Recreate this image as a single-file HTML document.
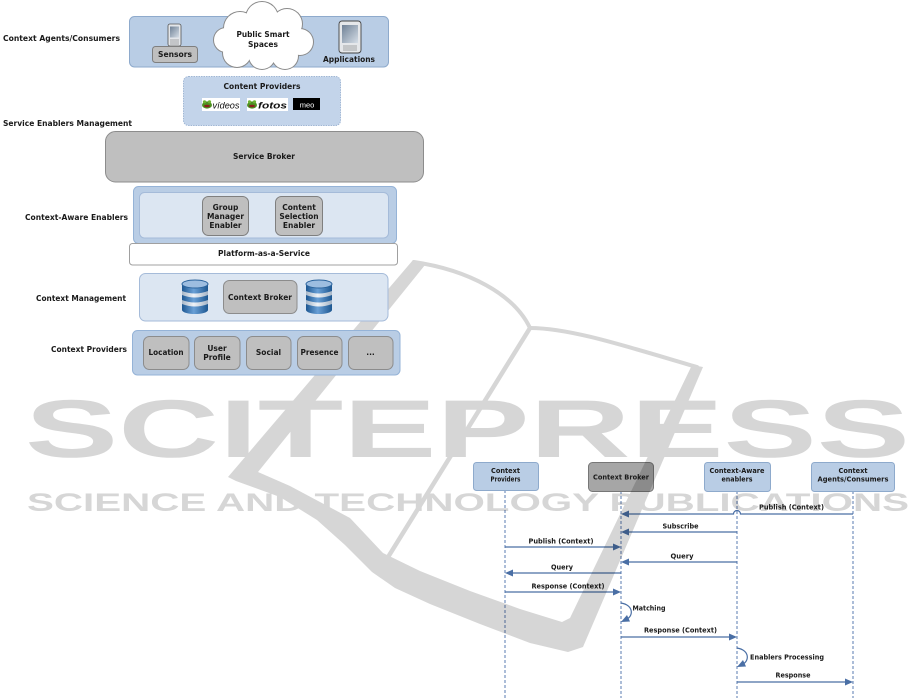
<!DOCTYPE html>
<html>
<head>
<meta charset="utf-8">
<style>
html,body{margin:0;padding:0;background:#fff;width:915px;height:700px;overflow:hidden}
svg{display:block}
text{font-family:"DejaVu Sans","Liberation Sans",sans-serif;font-weight:bold;fill:#1a1a1a}
.wm{font-family:"Liberation Sans",sans-serif;font-weight:bold;fill:#d6d6d6}
</style>
</head>
<body>
<svg width="915" height="700" viewBox="0 0 915 700" xmlns="http://www.w3.org/2000/svg">
<defs>
  <linearGradient id="cyl" x1="0" x2="1" y1="0" y2="0">
    <stop offset="0" stop-color="#1d5791"/><stop offset=".45" stop-color="#6aa0d6"/><stop offset="1" stop-color="#1d5791"/>
  </linearGradient>
  <linearGradient id="band" x1="0" x2="1" y1="0" y2="0">
    <stop offset="0" stop-color="#a7b6c7"/><stop offset=".45" stop-color="#eef2f7"/><stop offset="1" stop-color="#a7b6c7"/>
  </linearGradient>
  <linearGradient id="scr" x1="0" y1="0" x2="1" y2="1">
    <stop offset="0" stop-color="#6f8196"/><stop offset="1" stop-color="#d5dde6"/>
  </linearGradient>
</defs>
<rect x="0" y="0" width="915" height="700" fill="#fff"/>

<!-- ============ SEQUENCE DIAGRAM ============ -->
<g>
  <g stroke="#5a7bb0" stroke-width="1" stroke-dasharray="3,2" fill="none">
    <line x1="505" y1="490" x2="505" y2="698"/>
    <line x1="621" y1="491" x2="621" y2="698"/>
    <line x1="737" y1="491" x2="737" y2="698"/>
    <line x1="853" y1="491" x2="853" y2="698"/>
  </g>
  <rect x="473.5" y="462.5" width="65" height="28" rx="3" fill="#b9cde5" stroke="#8eaacc"/>
  <rect x="588.5" y="462.5" width="65" height="29" rx="4" fill="#a6a6a6" stroke="#777"/>
  <rect x="704.5" y="462.5" width="66" height="29" rx="3" fill="#b9cde5" stroke="#8eaacc"/>
  <rect x="811.5" y="462.5" width="83" height="29" rx="3" fill="#b9cde5" stroke="#8eaacc"/>
  <g font-size="6.6" text-anchor="middle">
    <text x="505.5" y="473" textLength="29" lengthAdjust="spacingAndGlyphs">Context</text>
    <text x="505.5" y="481.5" textLength="30" lengthAdjust="spacingAndGlyphs">Providers</text>
    <text x="621" y="479.5" textLength="56" lengthAdjust="spacingAndGlyphs">Context Broker</text>
    <text x="737" y="473" textLength="55" lengthAdjust="spacingAndGlyphs">Context-Aware</text>
    <text x="737" y="481.5" textLength="31" lengthAdjust="spacingAndGlyphs">enablers</text>
    <text x="853" y="473" textLength="29" lengthAdjust="spacingAndGlyphs">Context</text>
    <text x="853" y="481.5" textLength="71" lengthAdjust="spacingAndGlyphs">Agents/Consumers</text>
  </g>
  <g stroke="#4a6fa5" stroke-width="1.2" fill="none">
    <path d="M853,514 L740.5,514 A3.5,3.5 0 0 0 733.5,514 L628,514"/>
    <line x1="737" y1="532" x2="628" y2="532"/>
    <line x1="505" y1="547" x2="614" y2="547"/>
    <line x1="737" y1="562" x2="628" y2="562"/>
    <line x1="621" y1="573" x2="512" y2="573"/>
    <line x1="505" y1="592" x2="614" y2="592"/>
    <path d="M621,603 C634,605 634,617 625,620"/>
    <line x1="621" y1="637" x2="730" y2="637"/>
    <path d="M737,648 C750,650 750,662 741,665"/>
    <line x1="737" y1="682" x2="846" y2="682"/>
  </g>
  <g fill="#4a6fa5">
    <polygon points="621,514 629,510.5 629,517.5"/>
    <polygon points="621,532 629,528.5 629,535.5"/>
    <polygon points="621,547 613,543.5 613,550.5"/>
    <polygon points="621,562 629,558.5 629,565.5"/>
    <polygon points="505,573 513,569.5 513,576.5"/>
    <polygon points="621,592 613,588.5 613,595.5"/>
    <polygon points="621,622 627,615 630,621.5"/>
    <polygon points="737,637 729,633.5 729,640.5"/>
    <polygon points="737,667 743,660 746,666.5"/>
    <polygon points="853,682 845,678.5 845,685.5"/>
  </g>
  <g font-size="6.6">
    <text x="791.5" y="509.5" text-anchor="middle" textLength="65" lengthAdjust="spacingAndGlyphs">Publish (Context)</text>
    <text x="680.5" y="528.5" text-anchor="middle" textLength="36" lengthAdjust="spacingAndGlyphs">Subscribe</text>
    <text x="561" y="543.5" text-anchor="middle" textLength="65" lengthAdjust="spacingAndGlyphs">Publish (Context)</text>
    <text x="682" y="558.5" text-anchor="middle" textLength="23" lengthAdjust="spacingAndGlyphs">Query</text>
    <text x="562" y="569.5" text-anchor="middle" textLength="22" lengthAdjust="spacingAndGlyphs">Query</text>
    <text x="568" y="588.5" text-anchor="middle" textLength="73" lengthAdjust="spacingAndGlyphs">Response (Context)</text>
    <text x="632.5" y="610.5" textLength="33" lengthAdjust="spacingAndGlyphs">Matching</text>
    <text x="680.5" y="632.5" text-anchor="middle" textLength="73" lengthAdjust="spacingAndGlyphs">Response (Context)</text>
    <text x="750" y="659.5" textLength="74" lengthAdjust="spacingAndGlyphs">Enablers Processing</text>
    <text x="793" y="677.5" text-anchor="middle" textLength="35" lengthAdjust="spacingAndGlyphs">Response</text>
  </g>
</g>

<!-- ============ WATERMARK ============ -->
<g style="mix-blend-mode:multiply">
  <polygon fill="#d6d6d6" points="413,260 425,265 258,472 290,486 350,518 383,553 420,571 470,591 520,609 562,622 570,618 692,365 703,367 583,647 568,652 530,643 480,624 430,604 395,588 372,572 345,545 317,520 280,497 236,481 228,477"/>
  <g fill="none" stroke="#d6d6d6" stroke-linecap="round">
    <path d="M414,262 C468,270 514,294 530,328" stroke-width="4"/>
    <path d="M530,328 C570,328 625,346 697,367" stroke-width="4"/>
    <path d="M530,328 L385,562" stroke-width="4.5"/>
  </g>
  <text class="wm" x="25" y="457" font-size="82" textLength="885" lengthAdjust="spacingAndGlyphs">SCITEPRESS</text>
  <text class="wm" x="27" y="511" font-size="24.7" textLength="882" lengthAdjust="spacingAndGlyphs">SCIENCE AND TECHNOLOGY PUBLICATIONS</text>
</g>

<!-- ============ TOP ARCHITECTURE DIAGRAM ============ -->
<g>
  <g font-size="7.5">
    <text x="3" y="41" textLength="117" lengthAdjust="spacingAndGlyphs">Context Agents/Consumers</text>
    <text x="3" y="126" textLength="129" lengthAdjust="spacingAndGlyphs">Service Enablers Management</text>
    <text x="25" y="220" textLength="103" lengthAdjust="spacingAndGlyphs">Context-Aware Enablers</text>
    <text x="36" y="301" textLength="90" lengthAdjust="spacingAndGlyphs">Context Management</text>
    <text x="51" y="352" textLength="76" lengthAdjust="spacingAndGlyphs">Context Providers</text>
  </g>

  <rect x="129.5" y="16.5" width="259" height="50.5" rx="5" fill="#b9cde5" stroke="#8eaacc"/>
  <rect x="168" y="24" width="13" height="22" rx="2" fill="#e3e6ea" stroke="#555" stroke-width="0.8"/>
  <rect x="170" y="26.5" width="9" height="11" fill="url(#scr)"/>
  <g stroke="#777" stroke-width="0.6"><line x1="170" y1="40" x2="179" y2="40"/><line x1="170" y1="42" x2="179" y2="42"/><line x1="170" y1="44" x2="179" y2="44"/></g>
  <rect x="152.5" y="46.5" width="45" height="16" rx="3" fill="#bfbfbf" stroke="#7f7f7f"/>
  <text x="175" y="57" font-size="7.5" text-anchor="middle" textLength="34" lengthAdjust="spacingAndGlyphs">Sensors</text>
  <!-- cloud -->
  <g fill="#8a8a8a">
    <circle cx="240" cy="28" r="17"/><circle cx="262" cy="18" r="17"/><circle cx="287" cy="24" r="16"/>
    <circle cx="300" cy="42" r="14"/><circle cx="285" cy="56" r="14"/><circle cx="262" cy="56" r="14"/>
    <circle cx="237" cy="53" r="15"/><circle cx="226" cy="40" r="13"/>
  </g>
  <g fill="#fff">
    <circle cx="240" cy="28" r="16"/><circle cx="262" cy="18" r="16"/><circle cx="287" cy="24" r="15"/>
    <circle cx="300" cy="42" r="13"/><circle cx="285" cy="56" r="13"/><circle cx="262" cy="56" r="13"/>
    <circle cx="237" cy="53" r="14"/><circle cx="226" cy="40" r="12"/><circle cx="263" cy="38" r="22"/>
    <circle cx="282" cy="40" r="16"/><circle cx="246" cy="42" r="16"/>
  </g>
  <text x="263" y="37" font-size="7.5" text-anchor="middle" textLength="53" lengthAdjust="spacingAndGlyphs">Public Smart</text>
  <text x="263" y="47" font-size="7.5" text-anchor="middle" textLength="30" lengthAdjust="spacingAndGlyphs">Spaces</text>
  <rect x="339" y="21" width="22" height="32" rx="3" fill="#e5e7ea" stroke="#444" stroke-width="0.9"/>
  <rect x="342" y="25" width="16" height="18" fill="url(#scr)"/>
  <g stroke="#777" stroke-width="0.6"><line x1="343" y1="46" x2="357" y2="46"/><line x1="343" y1="48" x2="357" y2="48"/><line x1="343" y1="50" x2="357" y2="50"/></g>
  <text x="349" y="62" font-size="7.5" text-anchor="middle" textLength="52" lengthAdjust="spacingAndGlyphs">Applications</text>

  <rect x="183.5" y="76.5" width="157" height="49" rx="5" fill="#c3d4ea" stroke="#9fb6d4" stroke-dasharray="1.5,1"/>
  <text x="262" y="89" font-size="7.5" text-anchor="middle" textLength="77" lengthAdjust="spacingAndGlyphs">Content Providers</text>
  <rect x="202" y="98" width="38" height="13" fill="#fff"/>
  <ellipse cx="207" cy="105" rx="5" ry="3.6" fill="#4d8f22"/>
  <circle cx="204.5" cy="101.8" r="1.6" fill="#6cb233"/><circle cx="209.5" cy="101.8" r="1.6" fill="#6cb233"/>
  <ellipse cx="207" cy="106" rx="3" ry="1.2" fill="#8b1d1d"/>
  <text x="212.5" y="108.5" font-size="9" style="font-family:'Liberation Sans',sans-serif;font-style:italic;font-weight:normal;fill:#111" textLength="27" lengthAdjust="spacingAndGlyphs">vídeos</text>
  <rect x="247" y="98" width="41" height="13" fill="#fff"/>
  <ellipse cx="252" cy="105" rx="5" ry="3.6" fill="#4d8f22"/>
  <circle cx="249.5" cy="101.8" r="1.6" fill="#6cb233"/><circle cx="254.5" cy="101.8" r="1.6" fill="#6cb233"/>
  <ellipse cx="252" cy="106" rx="3" ry="1.2" fill="#8b1d1d"/>
  <text x="258" y="108.5" font-size="9.5" style="font-family:'Liberation Sans',sans-serif;font-style:italic;font-weight:bold;fill:#111" textLength="29" lengthAdjust="spacingAndGlyphs">fotos</text>
  <rect x="293" y="98" width="27" height="12" fill="#000"/>
  <text x="307" y="107.5" font-size="7.5" text-anchor="middle" style="font-family:'Liberation Sans',sans-serif;font-weight:normal;fill:#fff">meo</text>

  <rect x="105.5" y="131.5" width="318" height="50.5" rx="10" fill="#bfbfbf" stroke="#8c8c8c"/>
  <text x="264" y="159" font-size="7.5" text-anchor="middle" textLength="62" lengthAdjust="spacingAndGlyphs">Service Broker</text>

  <rect x="133.5" y="186.5" width="263" height="57" rx="5" fill="#b9cde5" stroke="#95b3d7"/>
  <rect x="139.5" y="192.5" width="249" height="45.5" rx="5" fill="#dce6f2" stroke="#a5bbd9"/>
  <rect x="202.5" y="196.5" width="46" height="39" rx="6" fill="#bfbfbf" stroke="#7f7f7f"/>
  <rect x="275.5" y="196.5" width="47" height="39" rx="6" fill="#bfbfbf" stroke="#7f7f7f"/>
  <g font-size="7.5" text-anchor="middle">
    <text x="225.5" y="210">Group</text>
    <text x="225.5" y="219">Manager</text>
    <text x="225.5" y="228">Enabler</text>
    <text x="299" y="210">Content</text>
    <text x="299" y="219">Selection</text>
    <text x="299" y="228">Enabler</text>
  </g>

  <rect x="129.5" y="243.5" width="268" height="21.5" rx="3" fill="#fff" stroke="#a0a0a0"/>
  <text x="264" y="256" font-size="7.5" text-anchor="middle" textLength="92" lengthAdjust="spacingAndGlyphs">Platform-as-a-Service</text>

  <rect x="139.5" y="273.5" width="248.5" height="47.5" rx="6" fill="#dce6f2" stroke="#a5bbd9"/>
  <path d="M182,284 L182,310 A13,4 0 0 0 208,310 L208,284 Z" fill="url(#cyl)"/>
  <path d="M182,291 Q195,296 208,291 L208,295 Q195,300 182,295 Z" fill="url(#band)"/>
  <path d="M182,300 Q195,305 208,300 L208,304 Q195,309 182,304 Z" fill="url(#band)"/>
  <ellipse cx="195" cy="284" rx="13" ry="4" fill="#9dbde0" stroke="#2b639c" stroke-width="1"/>
  <rect x="223.5" y="280.5" width="73.5" height="33" rx="6" fill="#bfbfbf" stroke="#8c8c8c"/>
  <text x="260" y="300" font-size="7.5" text-anchor="middle" textLength="64" lengthAdjust="spacingAndGlyphs">Context Broker</text>
  <path d="M306,284 L306,310 A13,4 0 0 0 332,310 L332,284 Z" fill="url(#cyl)"/>
  <path d="M306,291 Q319,296 332,291 L332,295 Q319,300 306,295 Z" fill="url(#band)"/>
  <path d="M306,300 Q319,305 332,300 L332,304 Q319,309 306,304 Z" fill="url(#band)"/>
  <ellipse cx="319" cy="284" rx="13" ry="4" fill="#9dbde0" stroke="#2b639c" stroke-width="1"/>

  <rect x="132.5" y="330.5" width="267.5" height="44.5" rx="5" fill="#b9cde5" stroke="#95b3d7"/>
  <g fill="#bfbfbf" stroke="#8c8c8c">
    <rect x="143.5" y="336.5" width="45.5" height="33" rx="6"/>
    <rect x="194.5" y="336.5" width="45.5" height="33" rx="6"/>
    <rect x="246.5" y="336.5" width="44.5" height="33" rx="6"/>
    <rect x="297.5" y="336.5" width="44.5" height="33" rx="6"/>
    <rect x="348.5" y="336.5" width="44.5" height="33" rx="6"/>
  </g>
  <g font-size="7.5" text-anchor="middle">
    <text x="166" y="355" textLength="35" lengthAdjust="spacingAndGlyphs">Location</text>
    <text x="217" y="351">User</text>
    <text x="217" y="360">Profile</text>
    <text x="268.5" y="355">Social</text>
    <text x="319.5" y="355" textLength="38" lengthAdjust="spacingAndGlyphs">Presence</text>
    <text x="370.5" y="355">...</text>
  </g>
</g>
</svg>
</body>
</html>
